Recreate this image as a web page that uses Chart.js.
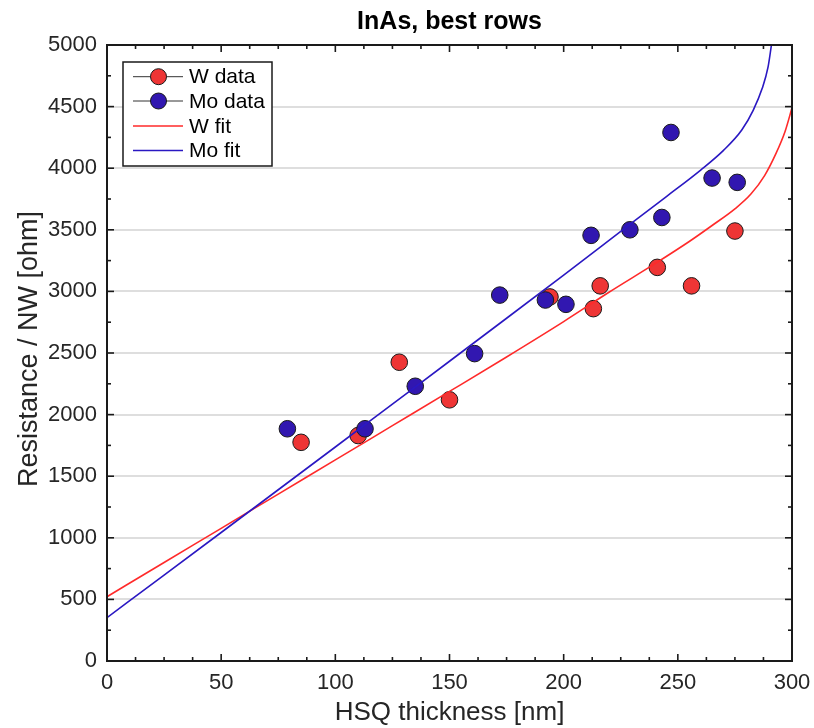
<!DOCTYPE html>
<html>
<head>
<meta charset="utf-8">
<script src="https://cdn.jsdelivr.net/npm/chart.js@4.4.1/dist/chart.umd.min.js"></script>
<style>
  html, body { margin: 0; padding: 0; background: #fff; }
  #wrap { width: 814px; height: 728px; position: relative; }
</style>
</head>
<body>
<div id="wrap"><canvas id="chart-inas"></canvas></div>
<script>
// ─── Measured data (HSQ thickness in nm, resistance per NW in ohm) ───
const wThickness  = [85, 110, 128, 150, 194, 213, 216, 241, 256, 275];
const wResistance = [1775, 1830, 2425, 2120, 2955, 2860, 3045, 3195, 3045, 3490];

const moThickness  = [79, 113, 135, 161, 172, 192, 201, 212, 229, 243, 247, 265, 276];
const moResistance = [1885, 1885, 2230, 2495, 2970, 2930, 2895, 3455, 3500, 3600, 4290, 3920, 3885];

// ─── Fit curves ───
const wFitX = [0, 25, 50, 75, 100, 125, 150, 175, 200, 220, 240, 255, 265, 275, 282, 288, 293, 297, 300];
const wFitY = [522, 800, 1077, 1355, 1632, 1910, 2188, 2468, 2755, 2995, 3225, 3405, 3535, 3670, 3790, 3940, 4120, 4300, 4490];

const moFitX = [0, 25, 50, 75, 100, 125, 150, 175, 200, 225, 245, 260, 270, 278, 283, 287, 289.5, 291];
const moFitY = [352, 697, 1043, 1390, 1737, 2085, 2433, 2782, 3133, 3487, 3770, 3985, 4145, 4310, 4470, 4650, 4820, 5000];

// ─── Axis ticks ───
const xTicks = [0, 50, 100, 150, 200, 250, 300];
const yTicks = [0, 500, 1000, 1500, 2000, 2500, 3000, 3500, 4000, 4500, 5000];
const xMinorStep = 12.5;
const yMinorStep = 250;

const FONT = '"Liberation Sans", Arial, Helvetica, sans-serif';
const RED_FILL  = '#ee3535';
const BLUE_FILL = '#3117b0';
const RED_LINE  = '#ff2a2a';
const BLUE_LINE = '#2a18c2';

const pts = (xs, ys) => xs.map((x, i) => ({ x, y: ys[i] }));

// Box, inward ticks on all four sides, titles and the legend
const framePlugin = {
  id: 'matlabFrame',
  afterDraw(chart) {
    const { ctx, chartArea: a, scales: { x, y } } = chart;
    const cx = (a.left + a.right) / 2;
    ctx.save();

    ctx.strokeStyle = '#1a1a1a';
    ctx.lineWidth = 1.6;
    const tick = (px, py, dx, dy) => {
      ctx.beginPath(); ctx.moveTo(px, py); ctx.lineTo(px + dx, py + dy); ctx.stroke();
    };
    for (let v = 0; v <= 300; v += xMinorStep) {
      const px = x.getPixelForValue(v);
      const len = xTicks.includes(v) ? 7 : 4;
      tick(px, a.bottom, 0, -len);
      tick(px, a.top, 0, len);
    }
    for (let v = 0; v <= 5000; v += yMinorStep) {
      const py = y.getPixelForValue(v);
      const len = yTicks.includes(v) ? 7 : 4;
      tick(a.left, py, len, 0);
      tick(a.right, py, -len, 0);
    }
    ctx.lineWidth = 2;
    ctx.strokeRect(a.left, a.top, a.right - a.left, a.bottom - a.top);

    // title and axis titles
    ctx.textAlign = 'center';
    ctx.textBaseline = 'middle';
    ctx.fillStyle = '#000';
    ctx.font = `bold 25px ${FONT}`;
    ctx.fillText('InAs, best rows', cx, 22);

    ctx.fillStyle = '#262626';
    ctx.font = `26px ${FONT}`;
    ctx.fillText('HSQ thickness [nm]', cx, 713);
    ctx.save();
    ctx.translate(30, (a.top + a.bottom) / 2 - 4);
    ctx.rotate(-Math.PI / 2);
    ctx.font = `27px ${FONT}`;
    ctx.fillText('Resistance / NW [ohm]', 0, 0);
    ctx.restore();

    // legend
    const lx = 123, ly = 62, lw = 149, lh = 104;
    ctx.fillStyle = '#fff';
    ctx.fillRect(lx, ly, lw, lh);
    ctx.strokeStyle = '#1a1a1a';
    ctx.lineWidth = 1.5;
    ctx.strokeRect(lx, ly, lw, lh);
    const rows = [76.7, 101, 126, 150.5];
    ctx.font = `21px ${FONT}`;
    ctx.textAlign = 'left';
    chart.data.datasets.forEach((ds, i) => {
      const ry = rows[i];
      ctx.beginPath();
      ctx.moveTo(133, ry); ctx.lineTo(183, ry);
      ctx.lineWidth = ds.showLine ? 1.5 : 1;
      ctx.strokeStyle = ds.showLine ? ds.borderColor : '#333';
      ctx.stroke();
      if (!ds.showLine) {
        ctx.beginPath();
        ctx.arc(158.5, ry, 8, 0, Math.PI * 2);
        ctx.fillStyle = ds.backgroundColor;
        ctx.fill();
        ctx.lineWidth = 1;
        ctx.strokeStyle = '#1a1a1a';
        ctx.stroke();
      }
      ctx.fillStyle = '#000';
      ctx.fillText(ds.label, 189, ry + 1);
    });
    ctx.restore();
  },
};

new Chart(document.getElementById('chart-inas'), {
  type: 'scatter',
  data: {
    datasets: [
      {
        label: 'W data',
        data: pts(wThickness, wResistance),
        backgroundColor: RED_FILL,
        borderColor: '#1a1a1a',
        borderWidth: 1,
        pointRadius: 8.3,
        showLine: false,
        order: 4,
      },
      {
        label: 'Mo data',
        data: pts(moThickness, moResistance),
        backgroundColor: BLUE_FILL,
        borderColor: '#1a1a1a',
        borderWidth: 1,
        pointRadius: 8.3,
        showLine: false,
        order: 3,
      },
      {
        label: 'W fit',
        data: pts(wFitX, wFitY),
        borderColor: RED_LINE,
        borderWidth: 1.6,
        pointRadius: 0,
        showLine: true,
        cubicInterpolationMode: 'monotone',
        order: 2,
      },
      {
        label: 'Mo fit',
        data: pts(moFitX, moFitY),
        borderColor: BLUE_LINE,
        borderWidth: 1.6,
        pointRadius: 0,
        showLine: true,
        cubicInterpolationMode: 'monotone',
        order: 1,
      },
    ],
  },
  options: {
    responsive: true,
    maintainAspectRatio: false,
    animation: false,
    layout: { padding: { left: 0, right: 22, top: 45, bottom: 0 } },
    plugins: {
      legend: { display: false },
      tooltip: { enabled: false },
      title: { display: false },
    },
    scales: {
      x: {
        type: 'linear',
        min: 0, max: 300,
        afterFit: (s) => { s.height = 67; s.paddingLeft = 0; s.paddingRight = 0; },
        afterBuildTicks: (s) => { s.ticks = xTicks.map(v => ({ value: v })); },
        grid: { display: false, drawTicks: false },
        border: { display: false },
        ticks: { color: '#262626', font: { family: FONT, size: 22 }, padding: 9, maxRotation: 0 },
      },
      y: {
        type: 'linear',
        min: 0, max: 5000,
        afterFit: (s) => { s.width = 107; s.paddingTop = 0; s.paddingBottom = 0; },
        afterBuildTicks: (s) => { s.ticks = yTicks.map(v => ({ value: v })); },
        grid: { color: '#dedede', lineWidth: 2, drawTicks: false },
        border: { display: false },
        ticks: {
          color: '#262626',
          font: { family: FONT, size: 22 },
          padding: 10,
          callback: (v) => String(v),
        },
      },
    },
  },
  plugins: [framePlugin],
});
</script>
</body>
</html>
